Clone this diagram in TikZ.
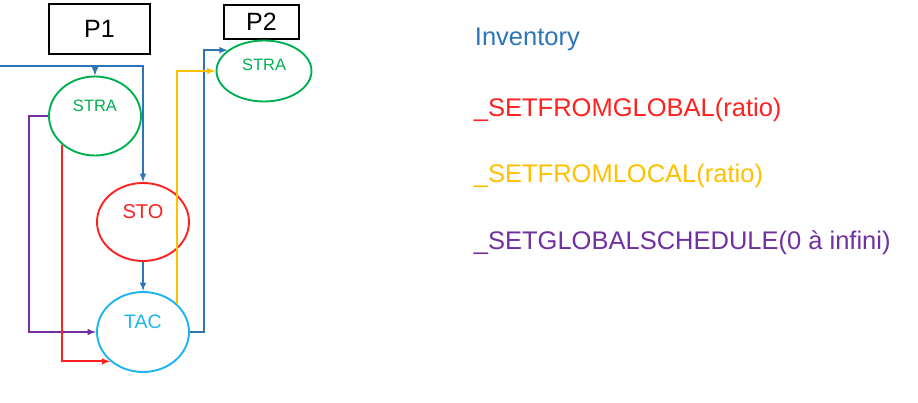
\documentclass[tikz,border=0pt]{standalone}
\usepackage{fontspec}
\setmainfont{Liberation Sans}
\usepackage{tikz}
\usetikzlibrary{arrows,positioning,shapes.geometric}

\definecolor{invblue}{HTML}{2E75B6}
\definecolor{glred}{HTML}{FF2020}
\definecolor{locyellow}{HTML}{FFC000}
\definecolor{schpurple}{HTML}{7030A0}
\definecolor{stragreen}{HTML}{00B050}
\definecolor{taccyan}{HTML}{1CB4EE}

\begin{document}
\begin{tikzpicture}[x=1pt, y=-1pt, >=latex, line width=1.9pt,
    plant/.style={draw=black, rectangle, inner sep=0pt, font=\fontsize{25}{28}\selectfont},
    flow/.style={draw=#1, ellipse, inner sep=0pt},
    lbl/.style={yshift=10pt, text=#1, font=\fontsize{16.5}{19}\selectfont},
    legend/.style={anchor=base west, inner sep=0pt, text=#1, font=\fontsize{25.5}{30}\selectfont}]
    \useasboundingbox (0,0) rectangle (918,403);

    \node[plant, minimum width=101pt, minimum height=50pt] (p1) at (99.5,29) {P1};
    \node[plant, minimum width=75pt, minimum height=34pt] (p2) at (261.5,22) {P2};

    \node[flow=stragreen, minimum width=92pt, minimum height=79pt,
          label={[lbl=stragreen]center:STRA}] (stra1) at (95,116) {};
    \node[flow=stragreen, minimum width=95pt, minimum height=61pt,
          label={[lbl=stragreen, yshift=-4pt]center:STRA}] (stra2) at (264,71) {};
    \node[flow=glred, minimum width=92pt, minimum height=78pt,
          label={[lbl=glred, font=\fontsize{20}{23}\selectfont]center:STO}] (sto) at (143,222) {};
    \node[flow=taccyan, minimum width=92pt, minimum height=80pt,
          label={[lbl=taccyan, font=\fontsize{19.5}{23}\selectfont]center:TAC}] (tac) at (143,332) {};

    \coordinate (in0) at (0,66);

    \node[legend=invblue] (inv) at (474,46) {Inventory};
    \node[legend=glred] (fromglobal) at (473,117) {\_SETFROMGLOBAL(ratio)};
    \node[legend=locyellow] (fromlocal) at (473,183) {\_SETFROMLOCAL(ratio)};
    \node[legend=schpurple] (schedule) at (473,250) {\_SETGLOBALSCHEDULE(0 à infini)};

    \draw[invblue, ->] (in0) -| (sto.north);
    \draw[invblue, ->] (stra1.north |- in0) -- (stra1.north);
    \draw[invblue, ->] (sto) -- (tac);
    \draw[invblue, ->] (tac.east) -- ++(14,0) |- (stra2.150);
    \draw[locyellow, ->] (tac.40) |- (stra2.west);
    \draw[schpurple, ->] (stra1.west) -- ++(-19,0) |- (tac.west);
    \draw[glred, ->] (stra1.221) |- (tac.222);
\end{tikzpicture}
\end{document}
